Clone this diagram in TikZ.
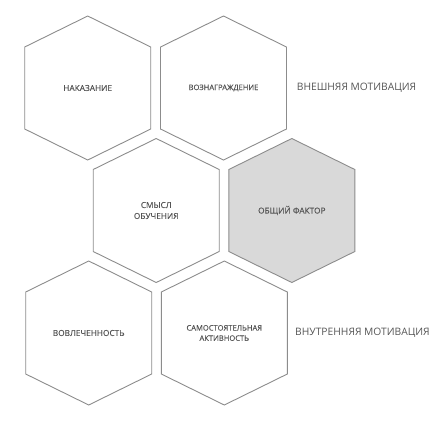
\documentclass[tikz,border=0pt]{standalone}
\usepackage{fontspec}
\setmainfont{Open Sans}
\newfontfamily\hexfont[FakeBold=0.12]{Open Sans}
\usetikzlibrary{calc}

\definecolor{hexgray}{HTML}{8C8C8C}
\definecolor{hexfill}{HTML}{D9D9D9}
\definecolor{txtgray}{HTML}{555555}

\tikzset{
  hexline/.style={draw=hexgray, line width=0.9bp, line join=miter},
  hextext/.style={text=txtgray, font=\hexfont\fontsize{8.3}{11}\selectfont, align=center, inner sep=0pt},
  hextextsmall/.style={hextext, font=\hexfont\fontsize{7.6}{10.3}\selectfont},
  sidetext/.style={text=txtgray, font=\fontsize{10.3}{13}\selectfont, anchor=west, inner sep=0pt}
}

\begin{document}
\begin{tikzpicture}[x=1bp,y=-1bp]
    \pgfmathsetmacro{\w}{63}
    \pgfmathsetmacro{\h}{72}
    \pgfmathsetmacro{\s}{41}
    \useasboundingbox (0,0) rectangle (444,423);

    \coordinate (H1) at (87.7,88);
    \coordinate (H2) at (223.5,88);
    \coordinate (H3) at (156.2,210.5);
    \coordinate (H4) at (291.8,210.5);
    \coordinate (H5) at (88.7,333);
    \coordinate (H6) at (224.3,333);

    \foreach \p/\f in {H1/white,H2/white,H3/white,H4/hexfill,H5/white,H6/white}{
        \filldraw[hexline, fill=\f] (\p) ++(0,-\h) -- ++(\w,\h-\s) -- ++(0,2*\s)
            -- ++(-\w,\h-\s) -- ++(-\w,\s-\h) -- ++(0,-2*\s) -- cycle;
    }

    \node[hextext] (nakaz) at (H1) {НАКАЗАНИЕ};
    \node[hextextsmall] (voznag) at (H2) {ВОЗНАГРАЖДЕНИЕ};
    \node[hextext] (smysl) at (H3) {СМЫСЛ\\ОБУЧЕНИЯ};
    \node[hextext] (obsch) at (H4) {ОБЩИЙ ФАКТОР};
    \node[hextext] (vovl) at (H5) {ВОВЛЕЧЕННОСТЬ};
    \node[hextextsmall] (samost) at (H6) {САМОСТОЯТЕЛЬНАЯ\\АКТИВНОСТЬ};

    \node[sidetext] (vnesh) at (296.7,88) {ВНЕШНЯЯ МОТИВАЦИЯ};
    \node[sidetext] (vnutr) at (295,333) {ВНУТРЕННЯЯ МОТИВАЦИЯ};
\end{tikzpicture}
\end{document}
